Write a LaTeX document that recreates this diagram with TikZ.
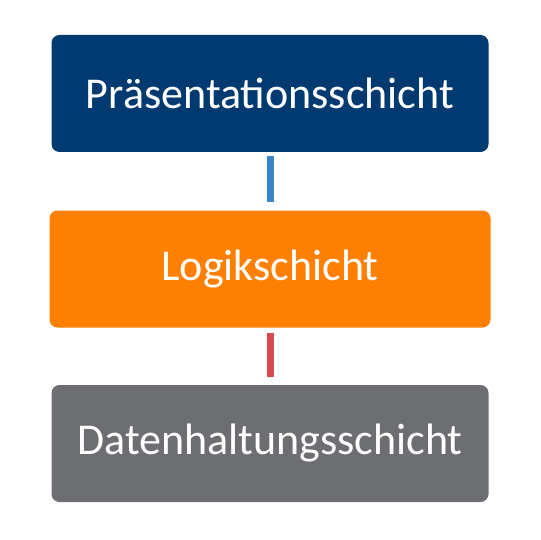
\documentclass[tikz,border=0pt]{standalone}
\usepackage{fontspec}
\setmainfont{Carlito}
\definecolor{boxblue}{HTML}{003A70}
\definecolor{boxorange}{HTML}{FF7F00}
\definecolor{boxgray}{HTML}{6D6E71}
\definecolor{lineblue}{HTML}{3A86C8}
\definecolor{linered}{HTML}{D84A50}
\begin{document}
\begin{tikzpicture}[x=1pt,y=-1pt,
  layer/.style={rounded corners=8pt, minimum width=437pt, minimum height=117pt, inner sep=0pt, text=white, font=\fontsize{44}{50}\selectfont},
  link/.style={line width=7pt}]
\useasboundingbox (0,0) rectangle (540,540);
\node[layer, fill=boxblue] (p) at (270,93.5) {Präsentationsschicht};
\node[layer, fill=boxorange, minimum width=441pt] (l) at (270,269) {Logikschicht};
\node[layer, fill=boxgray] (d) at (270,443.5) {Datenhaltungsschicht};
\draw[link, lineblue] ([yshift=-4pt]p.south) -- ([yshift=8pt]l.north);
\draw[link, linered] ([yshift=-5pt]l.south) -- ([yshift=8pt]d.north);
\end{tikzpicture}
\end{document}
